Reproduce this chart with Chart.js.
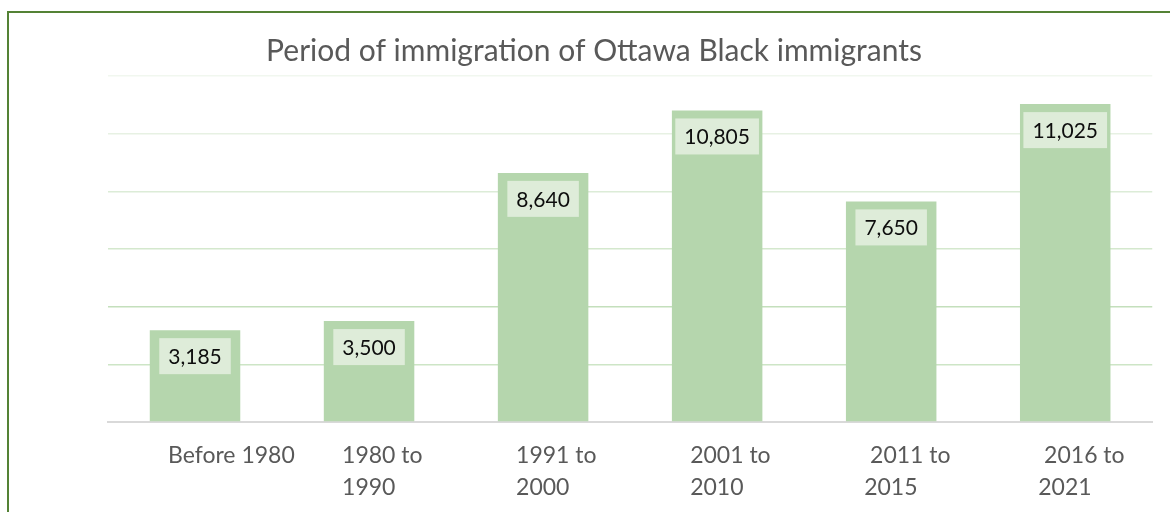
<!DOCTYPE html>
<html>
<head>
<meta charset="utf-8">
<script src="https://cdn.jsdelivr.net/npm/chart.js@4.4.1/dist/chart.umd.min.js"></script>
<style>
  html, body { margin: 0; padding: 0; background: #ffffff; }
  #wrap { position: relative; width: 1170px; height: 512px; overflow: hidden; }
  #frame { position: absolute; left: 7px; top: 11px; width: 1200px; height: 600px;
           border-left: 2px solid #548235; border-top: 2px solid #548235; box-sizing: border-box; }
  #chart { position: absolute; left: 0; top: 0; }
</style>
</head>
<body>
<div id="wrap">
  <div id="frame"></div>
  <canvas id="chart" width="1170" height="512"></canvas>
</div>
<script>
// Period of immigration categories (wrapped onto two lines where needed)
const periods = [
  ['Before 1980'],
  ['1980 to', '1990'],
  ['1991 to', '2000'],
  ['2001 to', '2010'],
  [' 2011 to', '2015'],
  [' 2016 to', '2021']
];
// Number of Black immigrants living in Ottawa, by period of arrival
const immigrants = [3185, 3500, 8640, 10805, 7650, 11025];
// Value axis bounds (labels hidden, gridlines shown)
const yMin = 0;
const yMax = 12000;
const yStep = 2000;

const titleText = 'Period of immigration of Ottawa Black immigrants';

// Gridline shades from the baseline upwards
const gridShades = ['rgba(0,0,0,0)', '#cde5c6', '#c4dfbc', '#d4e8cd', '#dcecd7', '#e7f1e3', '#f1f7ef'];

// Value boxes drawn just inside the top of each bar
const valueBoxes = {
  id: 'valueBoxes',
  afterDatasetsDraw(chart) {
    const ctx = chart.ctx;
    const meta = chart.getDatasetMeta(0);
    const values = chart.data.datasets[0].data;
    ctx.save();
    ctx.font = '21px Lato';
    ctx.textAlign = 'center';
    ctx.textBaseline = 'middle';
    meta.data.forEach((bar, i) => {
      const text = values[i].toLocaleString('en-US');
      const w = ctx.measureText(text).width + 18;
      const h = 36;
      const top = bar.y + 8;
      ctx.fillStyle = '#deecd9';
      ctx.fillRect(bar.x - w / 2, top, w, h);
      ctx.fillStyle = '#0d0d0d';
      ctx.fillText(text, bar.x, top + h / 2 + 1);
    });
    ctx.restore();
  }
};

new Chart(document.getElementById('chart'), {
  type: 'bar',
  data: {
    labels: periods,
    datasets: [{
      data: immigrants,
      backgroundColor: '#b5d6ad',
      borderWidth: 0,
      categoryPercentage: 1,
      barPercentage: 0.52
    }]
  },
  options: {
    responsive: false,
    animation: false,
    layout: { padding: { left: 35, right: 17, top: 12, bottom: 0 } },
    plugins: {
      legend: { display: false },
      tooltip: { enabled: false },
      title: {
        display: true,
        text: titleText,
        color: '#595959',
        font: { family: 'Lato', size: 30, weight: 'normal' },
        padding: { top: 21, bottom: 7 }
      }
    },
    scales: {
      x: {
        grid: { display: false, drawTicks: false },
        border: { display: true, color: '#d9d9d9', width: 2 },
        ticks: {
          color: '#595959',
          font: { family: 'Lato', size: 23, lineHeight: 1.4 },
          align: 'start',
          labelOffset: -27,
          padding: 17,
          maxRotation: 0,
          autoSkip: false
        },
        afterFit(scale) { scale.height = 90; }
      },
      y: {
        min: yMin,
        max: yMax,
        ticks: { display: false, stepSize: yStep },
        grid: {
          drawTicks: false,
          lineWidth: 1.5,
          color: (c) => gridShades[c.index] || '#e0efdb'
        },
        border: { display: false },
        afterFit(scale) { scale.width = 73; }
      }
    }
  },
  plugins: [valueBoxes]
});
</script>
</body>
</html>
